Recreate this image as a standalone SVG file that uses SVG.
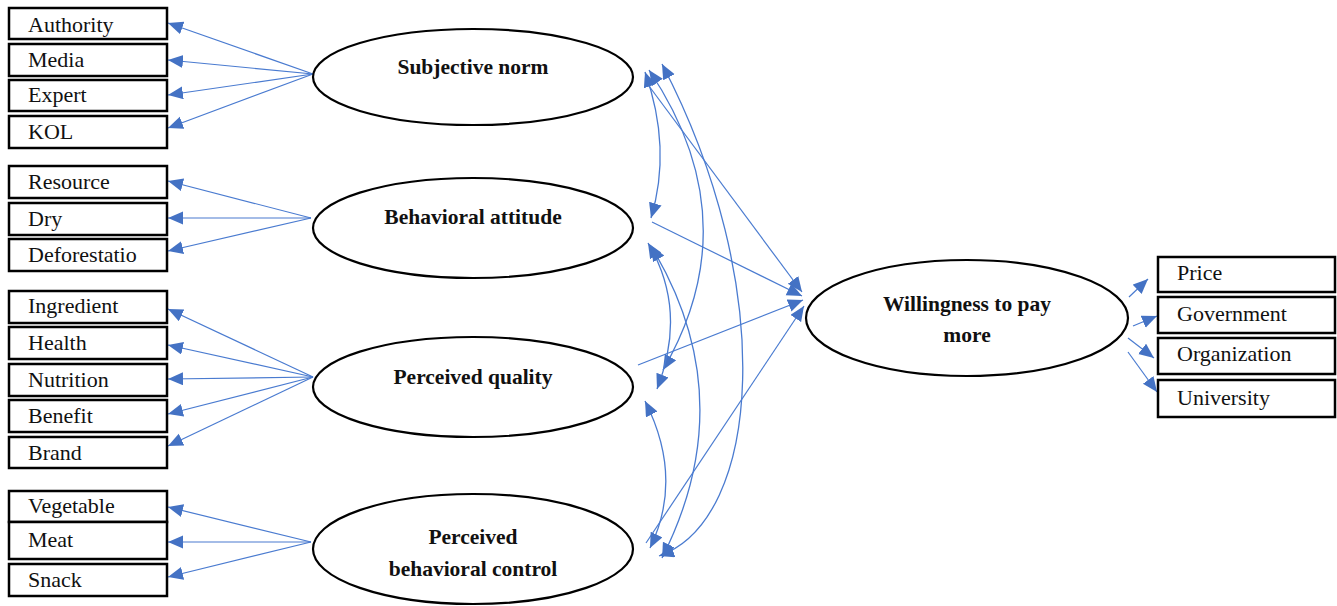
<svg xmlns="http://www.w3.org/2000/svg" width="1337" height="606" viewBox="0 0 1337 606">
<style>
.box{fill:#fff;stroke:#000;stroke-width:2.5}
.ell{fill:#fff;stroke:#000;stroke-width:2.2}
.lbl{font-family:"Liberation Serif","Times New Roman",serif;font-size:22px;fill:#111}
.hd{font-family:"Liberation Serif","Times New Roman",serif;font-size:21.5px;font-weight:bold;fill:#111;text-anchor:middle}
.ln{stroke:#4A7BD0;stroke-width:1.2;fill:none;marker-end:url(#ah)}
.cv{stroke:#4A7BD0;stroke-width:1.3;fill:none;marker-start:url(#ah);marker-end:url(#ah)}
</style>
<defs>
<marker id="ah" markerUnits="userSpaceOnUse" markerWidth="16" markerHeight="14" refX="15" refY="6.5" orient="auto-start-reverse">
<path d="M0,0 L15,6.5 L0,13 z" fill="#4472C4"/>
</marker>
</defs>
<rect width="1337" height="606" fill="#fff"/>
<g id="connectors">
<path class="ln" d="M313,74 L168,23"/>
<path class="ln" d="M313,74 L168,60"/>
<path class="ln" d="M313,74 L168,95"/>
<path class="ln" d="M313,74 L168,128"/>
<path class="ln" d="M311,218 L168,181"/>
<path class="ln" d="M311,218 L168,218"/>
<path class="ln" d="M311,218 L168,251"/>
<path class="ln" d="M313,377 L168,309"/>
<path class="ln" d="M313,377 L168,345"/>
<path class="ln" d="M313,377 L168,379"/>
<path class="ln" d="M313,377 L168,414"/>
<path class="ln" d="M313,377 L168,446"/>
<path class="ln" d="M311,542 L168,507"/>
<path class="ln" d="M311,542 L168,542"/>
<path class="ln" d="M311,542 L168,577"/>
<path class="ln" d="M1129,297 L1148,279"/>
<path class="ln" d="M1133,326 L1157,316"/>
<path class="ln" d="M1128,338 L1154,358"/>
<path class="ln" d="M1128,352 L1157,392"/>
<path class="ln" d="M646,82 L802,292"/>
<path class="ln" d="M652,222 L802,296"/>
<path class="ln" d="M638,365 L803,300"/>
<path class="ln" d="M646,543 L804,306"/>
<path class="cv" d="M645,72 Q672,148 651,218"/>
<path class="cv" d="M649,70 Q750,220 663,370"/>
<path class="cv" d="M662,64 C778,286 762,520 659,556"/>
<path class="cv" d="M648,243 Q688,310 657,389"/>
<path class="cv" d="M651,246 Q743,398 662,558"/>
<path class="cv" d="M645,401 Q684,478 650,548"/>
</g>
<g id="n-authority"><rect class="box" x="9" y="8" width="158" height="31"/><text class="lbl" x="28" y="32">Authority</text></g>
<g id="n-media"><rect class="box" x="9" y="44" width="158" height="32"/><text class="lbl" x="28" y="67">Media</text></g>
<g id="n-expert"><rect class="box" x="9" y="80" width="158" height="31"/><text class="lbl" x="28" y="102">Expert</text></g>
<g id="n-kol"><rect class="box" x="9" y="116" width="158" height="32"/><text class="lbl" x="28" y="139">KOL</text></g>
<g id="n-resource"><rect class="box" x="9" y="166" width="158" height="32"/><text class="lbl" x="28" y="189">Resource</text></g>
<g id="n-dry"><rect class="box" x="9" y="203" width="158" height="32"/><text class="lbl" x="28" y="226">Dry</text></g>
<g id="n-deforestatio"><rect class="box" x="9" y="239" width="158" height="32"/><text class="lbl" x="28" y="262">Deforestatio</text></g>
<g id="n-ingredient"><rect class="box" x="9" y="291" width="158" height="32"/><text class="lbl" x="28" y="313">Ingredient</text></g>
<g id="n-health"><rect class="box" x="9" y="327" width="158" height="32"/><text class="lbl" x="28" y="350">Health</text></g>
<g id="n-nutrition"><rect class="box" x="9" y="364" width="158" height="32"/><text class="lbl" x="28" y="387">Nutrition</text></g>
<g id="n-benefit"><rect class="box" x="9" y="400" width="158" height="32"/><text class="lbl" x="28" y="423">Benefit</text></g>
<g id="n-brand"><rect class="box" x="9" y="437" width="158" height="31"/><text class="lbl" x="28" y="460">Brand</text></g>
<g id="n-vegetable"><rect class="box" x="9" y="491" width="158" height="31"/><text class="lbl" x="28" y="513">Vegetable</text></g>
<g id="n-meat"><rect class="box" x="9" y="522" width="158" height="37"/><text class="lbl" x="28" y="547">Meat</text></g>
<g id="n-snack"><rect class="box" x="9" y="564" width="158" height="32"/><text class="lbl" x="28" y="587">Snack</text></g>
<g id="n-price"><rect class="box" x="1158" y="257" width="177" height="35"/><text class="lbl" x="1177" y="280">Price</text></g>
<g id="n-government"><rect class="box" x="1158" y="297" width="177" height="36"/><text class="lbl" x="1177" y="321">Government</text></g>
<g id="n-organization"><rect class="box" x="1158" y="338" width="177" height="36"/><text class="lbl" x="1177" y="361">Organization</text></g>
<g id="n-university"><rect class="box" x="1158" y="380" width="177" height="37"/><text class="lbl" x="1177" y="405">University</text></g>
<g id="n-subjective-norm"><ellipse class="ell" cx="473" cy="77" rx="160" ry="48"/><text class="hd" x="473" y="74">Subjective norm</text></g>
<g id="n-behavioral-attitude"><ellipse class="ell" cx="473" cy="228" rx="160" ry="50"/><text class="hd" x="473" y="224">Behavioral attitude</text></g>
<g id="n-perceived-quality"><ellipse class="ell" cx="473" cy="387" rx="160" ry="50"/><text class="hd" x="473" y="384">Perceived quality</text></g>
<g id="n-pbc"><ellipse class="ell" cx="473" cy="549" rx="160" ry="55"/><text class="hd" x="473" y="544">Perceived</text><text class="hd" x="473" y="576">behavioral control</text></g>
<g id="n-wtp"><ellipse class="ell" cx="967" cy="318" rx="161" ry="58"/><text class="hd" x="967" y="311">Willingness to pay</text><text class="hd" x="967" y="342">more</text></g>
</svg>
